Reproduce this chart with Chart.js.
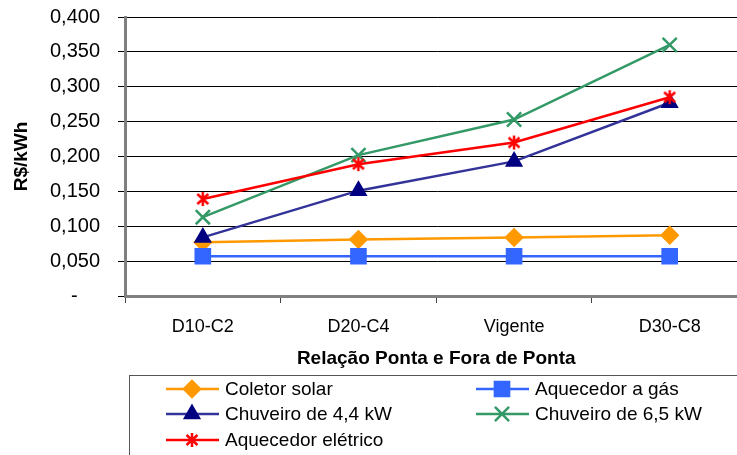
<!DOCTYPE html>
<html>
<head>
<meta charset="utf-8">
<script src="https://cdn.jsdelivr.net/npm/chart.js@4"></script>
<style>
  html, body { margin: 0; padding: 0; background: #fff; overflow: hidden; }
</style>
</head>
<body>
<canvas id="tarifas" width="760" height="455"></canvas>
<script>
// Custo da energia (R$/kWh) por relação ponta / fora de ponta
const categorias = ['D10-C2', 'D20-C4', 'Vigente', 'D30-C8'];
const coletorSolar = [0.077, 0.081, 0.084, 0.087];
const aquecedorGas = [0.057, 0.057, 0.057, 0.057];
const chuveiro44 = [0.084, 0.151, 0.193, 0.277];
const chuveiro65 = [0.113, 0.202, 0.253, 0.360];
const aquecedorEletrico = [0.139, 0.189, 0.220, 0.285];

// asterisco (vertical + X) para o aquecedor elétrico
function makeAsterisk(color) {
    const c = document.createElement('canvas');
    c.width = 16; c.height = 16;
    const g = c.getContext('2d');
    g.strokeStyle = color;
    g.lineWidth = 2.5;
    g.beginPath();
    g.moveTo(8, 1); g.lineTo(8, 15);
    g.moveTo(2.5, 3); g.lineTo(13.5, 13);
    g.moveTo(13.5, 3); g.lineTo(2.5, 13);
    g.stroke();
    return c;
}
const asterisco = makeAsterisk('#FF0000');

function serie(label, data, line, marker, style, radius) {
    return {
        label: label,
        data: data,
        borderColor: line,
        backgroundColor: marker,
        pointBackgroundColor: marker,
        pointBorderColor: marker,
        pointStyle: style,
        pointRadius: radius,
        pointBorderWidth: 2.5,
        borderWidth: 2.5,
        tension: 0
    };
}

const datasets = [
    serie('Coletor solar', coletorSolar, '#FF9900', '#FF9900', 'rectRot', 8),
    serie('Aquecedor a gás', aquecedorGas, '#3366FF', '#3366FF', 'rect', 10),
    serie('Chuveiro de 4,4 kW', chuveiro44, '#333399', '#000080', 'triangle', 8),
    serie('Chuveiro de 6,5 kW', chuveiro65, '#339966', '#339966', 'crossRot', 10),
    serie('Aquecedor elétrico', aquecedorEletrico, '#FF0000', '#FF0000', asterisco, 8)
];
// ordem de desenho: elétrico por cima
datasets.forEach((d, i) => d.order = datasets.length - i);

// legenda em caixa, duas colunas
const legendaCaixa = {
    id: 'legendaCaixa',
    afterDraw(chart) {
        const ctx = chart.ctx;
        ctx.save();
        ctx.strokeStyle = '#555';
        ctx.lineWidth = 1;
        ctx.strokeRect(129.5, 375.5, 700, 120);
        const cols = [166, 476];
        const rows = [389, 414, 440];
        ctx.font = '19px "Liberation Sans", Arial, sans-serif';
        ctx.textBaseline = 'middle';
        ctx.textAlign = 'left';
        chart.data.datasets.forEach((ds, i) => {
            const x = cols[i % 2];
            const y = rows[Math.floor(i / 2)];
            ctx.strokeStyle = ds.borderColor;
            ctx.lineWidth = 2.5;
            ctx.beginPath();
            ctx.moveTo(x, y);
            ctx.lineTo(x + 53, y);
            ctx.stroke();
            ctx.fillStyle = ds.pointBackgroundColor;
            ctx.strokeStyle = ds.pointBorderColor;
            Chart.helpers.drawPoint(ctx, {
                pointStyle: ds.pointStyle,
                radius: ds.pointRadius,
                rotation: 0,
                borderWidth: 2.5
            }, x + 26, y);
            ctx.fillStyle = '#000';
            ctx.fillText(ds.label, x + 59, y + 1);
        });
        ctx.restore();
    }
};

new Chart(document.getElementById('tarifas'), {
    type: 'line',
    data: { labels: categorias, datasets: datasets },
    options: {
        responsive: false,
        animation: false,
        devicePixelRatio: 1,
        layout: { padding: { top: 17, right: 11, left: 0, bottom: 0 } },
        plugins: {
            legend: { display: false },
            tooltip: { enabled: false }
        },
        scales: {
            x: {
                offset: true,
                afterFit(scale) { scale.height = 159; },
                grid: {
                    offset: true,
                    drawOnChartArea: false,
                    drawTicks: true,
                    tickLength: 7,
                    color: '#444'
                },
                border: { display: true, color: '#808080', width: 3 },
                ticks: {
                    color: '#000',
                    padding: 13,
                    font: { family: '"Liberation Sans", Arial, sans-serif', size: 18 }
                },
                title: {
                    display: true,
                    text: 'Relação Ponta e Fora de Ponta',
                    color: '#000',
                    padding: { top: 0, bottom: 85 },
                    font: { family: '"Liberation Sans", Arial, sans-serif', size: 19, weight: 'bold' }
                }
            },
            y: {
                min: 0,
                max: 0.4,
                afterFit(scale) {
                    scale.width = 125;
                    // o padding dos rótulos não deve empurrar a área do gráfico
                    scale.paddingTop = 0;
                    scale.paddingBottom = 0;
                },
                grid: {
                    color: '#000',
                    lineWidth: 1,
                    drawTicks: true,
                    tickLength: 7
                },
                border: { display: true, color: '#808080', width: 3 },
                ticks: {
                    stepSize: 0.05,
                    color: '#000',
                    padding: 18,
                    font: { family: '"Liberation Sans", Arial, sans-serif', size: 20 },
                    callback: (v) => Math.abs(v) < 1e-9 ? '-    ' : v.toFixed(3).replace('.', ',')
                },
                title: {
                    display: true,
                    text: 'R$/kWh',
                    color: '#000',
                    padding: { top: 10, bottom: 0 },
                    font: { family: '"Liberation Sans", Arial, sans-serif', size: 19, weight: 'bold' }
                }
            }
        }
    },
    plugins: [legendaCaixa]
});
</script>
</body>
</html>
